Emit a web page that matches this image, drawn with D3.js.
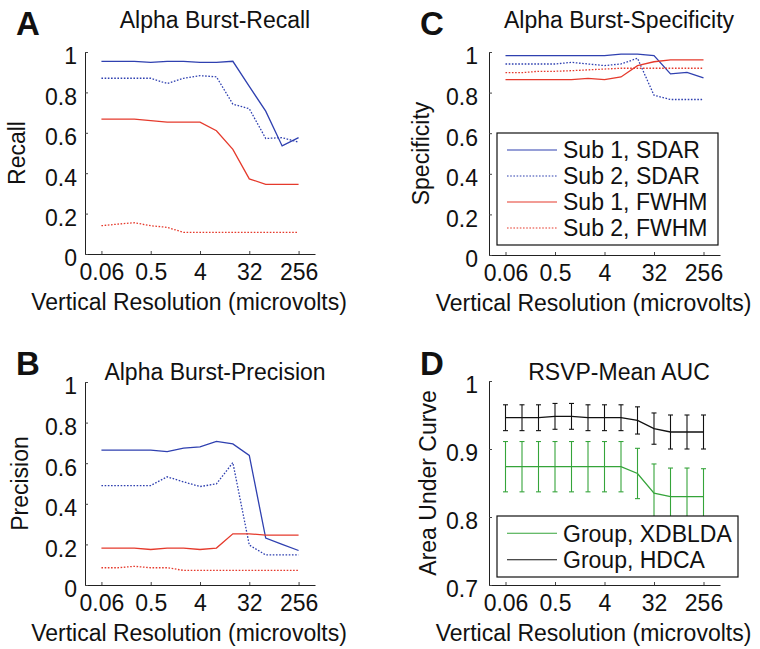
<!DOCTYPE html>
<html>
<head>
<meta charset="utf-8">
<script src="https://cdn.jsdelivr.net/npm/d3@7"></script>
<style>
  body { margin: 0; background: #fff; }
  text { font-family: "Liberation Sans", Arial, Helvetica, sans-serif; fill: #111; }
</style>
</head>
<body>
<div id="chart"></div>
<script>
// x values: vertical resolution in microvolts (powers of two)
var resolutions = [0.0625, 0.125, 0.25, 0.5, 1, 2, 4, 8, 16, 32, 64, 128, 256];
var xTickValues = [0.0625, 0.5, 4, 32, 256];
var xTickLabels = ["0.06", "0.5", "4", "32", "256"];

// A - recall
var recallSub1SDAR = [0.954, 0.954, 0.954, 0.949, 0.954, 0.954, 0.949, 0.949, 0.954, 0.830, 0.707, 0.535, 0.576];
var recallSub2SDAR = [0.870, 0.870, 0.870, 0.870, 0.844, 0.870, 0.883, 0.877, 0.742, 0.719, 0.572, 0.576, 0.554];
var recallSub1FWHM = [0.668, 0.668, 0.668, 0.660, 0.653, 0.653, 0.653, 0.610, 0.518, 0.372, 0.345, 0.345, 0.345];
var recallSub2FWHM = [0.140, 0.148, 0.155, 0.140, 0.132, 0.107, 0.107, 0.107, 0.107, 0.107, 0.107, 0.107, 0.107];

// B - precision
var precSub1SDAR = [0.664, 0.664, 0.664, 0.664, 0.657, 0.674, 0.680, 0.707, 0.695, 0.638, 0.231, 0.200, 0.170];
var precSub2SDAR = [0.490, 0.490, 0.490, 0.490, 0.533, 0.508, 0.485, 0.498, 0.603, 0.197, 0.148, 0.148, 0.148];
var precSub1FWHM = [0.182, 0.182, 0.182, 0.175, 0.182, 0.182, 0.175, 0.182, 0.252, 0.252, 0.246, 0.246, 0.246];
var precSub2FWHM = [0.085, 0.085, 0.092, 0.085, 0.085, 0.072, 0.072, 0.072, 0.072, 0.072, 0.072, 0.072, 0.072];

// C - specificity
var specSub1SDAR = [0.982, 0.982, 0.982, 0.982, 0.982, 0.982, 0.982, 0.990, 0.990, 0.982, 0.892, 0.900, 0.872];
var specSub2SDAR = [0.941, 0.941, 0.941, 0.941, 0.949, 0.941, 0.933, 0.941, 0.969, 0.787, 0.766, 0.766, 0.766];
var specSub1FWHM = [0.864, 0.864, 0.864, 0.864, 0.864, 0.870, 0.864, 0.877, 0.933, 0.952, 0.961, 0.961, 0.961];
var specSub2FWHM = [0.898, 0.898, 0.905, 0.905, 0.908, 0.912, 0.916, 0.920, 0.920, 0.920, 0.920, 0.920, 0.920];

// D - RSVP mean AUC with error bars
var aucXDBLDA    = [0.874, 0.874, 0.874, 0.874, 0.874, 0.874, 0.874, 0.874, 0.864, 0.835, 0.830, 0.830, 0.830];
var aucXDBLDAErr = [0.037, 0.037, 0.037, 0.037, 0.037, 0.037, 0.037, 0.037, 0.037, 0.043, 0.042, 0.042, 0.041];
var aucHDCA      = [0.946, 0.946, 0.946, 0.948, 0.948, 0.946, 0.946, 0.946, 0.942, 0.930, 0.925, 0.925, 0.925];
var aucHDCAErr   = [0.019, 0.019, 0.019, 0.019, 0.019, 0.019, 0.019, 0.019, 0.020, 0.023, 0.025, 0.025, 0.025];

var yTicksRate = [0, 0.2, 0.4, 0.6, 0.8, 1];
var yTicksAuc = [0.7, 0.8, 0.9, 1];

var subjectLegend = ["Sub 1, SDAR", "Sub 2, SDAR", "Sub 1, FWHM", "Sub 2, FWHM"];
var groupLegend = ["Group, XDBLDA", "Group, HDCA"];

var blue = "#2f40b0", red = "#e53a2c", green = "#35a43a", black = "#111";

var width = 760, height = 649;

var svg = d3.select("#chart")
            .append("svg")
            .attr("width", width)
            .attr("height", height);

function rateSeries(s1, s2, s3, s4) {
    return [
        {values: s1, color: blue, dash: null},
        {values: s2, color: blue, dash: "1.6,1.6"},
        {values: s3, color: red, dash: null},
        {values: s4, color: red, dash: "1.6,1.6"}
    ];
}

var panels = [
    {letter: "A", title: "Alpha Burst-Recall", ylabel: "Recall", left: 85, top: 52, w: 230, h: 202,
     titleY: 28, yDomain: [0, 1], yTicks: yTicksRate, yLabelOff: 60, tickOff: 8,
     series: rateSeries(recallSub1SDAR, recallSub2SDAR, recallSub1FWHM, recallSub2FWHM)},
    {letter: "C", title: "Alpha Burst-Specificity", ylabel: "Specificity", left: 489, top: 52, w: 231, h: 203,
     titleY: 28, yDomain: [0, 1], yTicks: yTicksRate, yLabelOff: 60, tickOff: 11,
     series: rateSeries(specSub1SDAR, specSub2SDAR, specSub1FWHM, specSub2FWHM),
     legend: {x: 497, y: 133, w: 221, h: 112, labels: subjectLegend}},
    {letter: "B", title: "Alpha Burst-Precision", ylabel: "Precision", left: 85, top: 382, w: 230, h: 203,
     titleY: 380, yDomain: [0, 1], yTicks: yTicksRate, yLabelOff: 57, tickOff: 8,
     series: rateSeries(precSub1SDAR, precSub2SDAR, precSub1FWHM, precSub2FWHM)},
    {letter: "D", title: "RSVP-Mean AUC", ylabel: "Area Under Curve", left: 489, top: 381, w: 231, h: 204,
     titleY: 380, yDomain: [0.7, 1], yTicks: yTicksAuc, yLabelOff: 53, tickOff: 11,
     series: [
        {values: aucXDBLDA, err: aucXDBLDAErr, color: green, dash: null},
        {values: aucHDCA, err: aucHDCAErr, color: black, dash: null}
     ],
     legend: {x: 497, y: 516, w: 241, h: 61, labels: groupLegend}}
];

panels.forEach(function(p) {
    var g = svg.append("g")
               .attr("transform", "translate(" + p.left + "," + p.top + ")");

    var x = d3.scaleLog().base(2)
              .domain([Math.pow(2, -5), Math.pow(2, 9)])
              .range([0, p.w]);

    var y = d3.scaleLinear()
              .domain(p.yDomain)
              .range([p.h, 0]);

    // x axis, matlab style: inward ticks, no box
    var xAxis = g.append("g")
                 .attr("transform", "translate(0," + p.h + ")")
                 .call(d3.axisBottom(x)
                         .tickValues(xTickValues)
                         .tickSizeInner(-3)
                         .tickSizeOuter(0)
                         .tickFormat((d, i) => xTickLabels[i]));
    xAxis.select(".domain").attr("stroke", "#222");
    xAxis.selectAll(".tick line").attr("stroke", "#444");
    xAxis.selectAll("text")
         .attr("y", 26)
         .attr("dy", null)
         .style("font-size", "23px")
         .style("fill", "#111");

    var yAxis = g.append("g")
                 .call(d3.axisLeft(y)
                         .tickValues(p.yTicks)
                         .tickSizeInner(-3)
                         .tickSizeOuter(0)
                         .tickFormat(d3.format("~g")));
    yAxis.select(".domain").attr("stroke", "#222");
    yAxis.selectAll(".tick line").attr("stroke", "#444");
    yAxis.selectAll("text")
         .attr("x", -p.tickOff)
         .attr("dy", "0.52em")
         .style("font-size", "23px")
         .style("fill", "#111");

    var line = d3.line()
                 .x((d, i) => x(resolutions[i]))
                 .y(d => y(d));

    // error bars first so the mean line sits on top
    p.series.forEach(function(s) {
        if (!s.err) return;
        var eb = g.append("g").attr("stroke", s.color).attr("stroke-width", 1.1);
        s.values.forEach(function(v, i) {
            var cx = x(resolutions[i]);
            eb.append("line").attr("x1", cx).attr("x2", cx)
              .attr("y1", y(v - s.err[i])).attr("y2", y(v + s.err[i]));
            eb.append("line").attr("x1", cx - 2.5).attr("x2", cx + 2.5)
              .attr("y1", y(v - s.err[i])).attr("y2", y(v - s.err[i]));
            eb.append("line").attr("x1", cx - 2.5).attr("x2", cx + 2.5)
              .attr("y1", y(v + s.err[i])).attr("y2", y(v + s.err[i]));
        });
    });

    p.series.forEach(function(s) {
        g.append("path")
         .datum(s.values)
         .attr("fill", "none")
         .attr("stroke", s.color)
         .attr("stroke-width", 1.3)
         .attr("stroke-dasharray", s.dash)
         .attr("d", line);
    });

    // title, panel letter, axis labels
    svg.append("text")
       .attr("x", p.left + 130)
       .attr("y", p.titleY)
       .attr("text-anchor", "middle")
       .style("font-size", "23px")
       .text(p.title);

    svg.append("text")
       .attr("x", p.left - 69)
       .attr("y", p.letter == "A" || p.letter == "C" ? 35 : 375)
       .style("font-size", "33px")
       .style("font-weight", "bold")
       .text(p.letter);

    svg.append("text")
       .attr("transform", "translate(" + (p.left - p.yLabelOff) + "," + (p.top + p.h / 2) + ") rotate(-90)")
       .attr("text-anchor", "middle")
       .style("font-size", "23px")
       .text(p.ylabel);

    svg.append("text")
       .attr("x", p.left + p.w / 2 - 11)
       .attr("y", p.top + p.h + 56)
       .attr("text-anchor", "middle")
       .style("font-size", "23px")
       .text("Vertical Resolution (microvolts)");

    // legend box
    if (p.legend) {
        var lg = svg.append("g");
        lg.append("rect")
          .attr("x", p.legend.x)
          .attr("y", p.legend.y)
          .attr("width", p.legend.w)
          .attr("height", p.legend.h)
          .attr("fill", "#fff")
          .attr("stroke", "#111")
          .attr("stroke-width", 1.2);
        var rowH = (p.legend.h - 8) / p.legend.labels.length;
        p.legend.labels.forEach(function(label, i) {
            var ry = p.legend.y + 4 + rowH * (i + 0.5);
            lg.append("line")
              .attr("x1", p.legend.x + 10)
              .attr("x2", p.legend.x + 60)
              .attr("y1", ry)
              .attr("y2", ry)
              .attr("stroke", p.series[i].color)
              .attr("stroke-width", 1.2)
              .attr("stroke-dasharray", p.series[i].dash);
            lg.append("text")
              .attr("x", p.legend.x + 66)
              .attr("y", ry)
              .attr("dy", "0.36em")
              .style("font-size", "23px")
              .text(label);
        });
    }
});
</script>
</body>
</html>
